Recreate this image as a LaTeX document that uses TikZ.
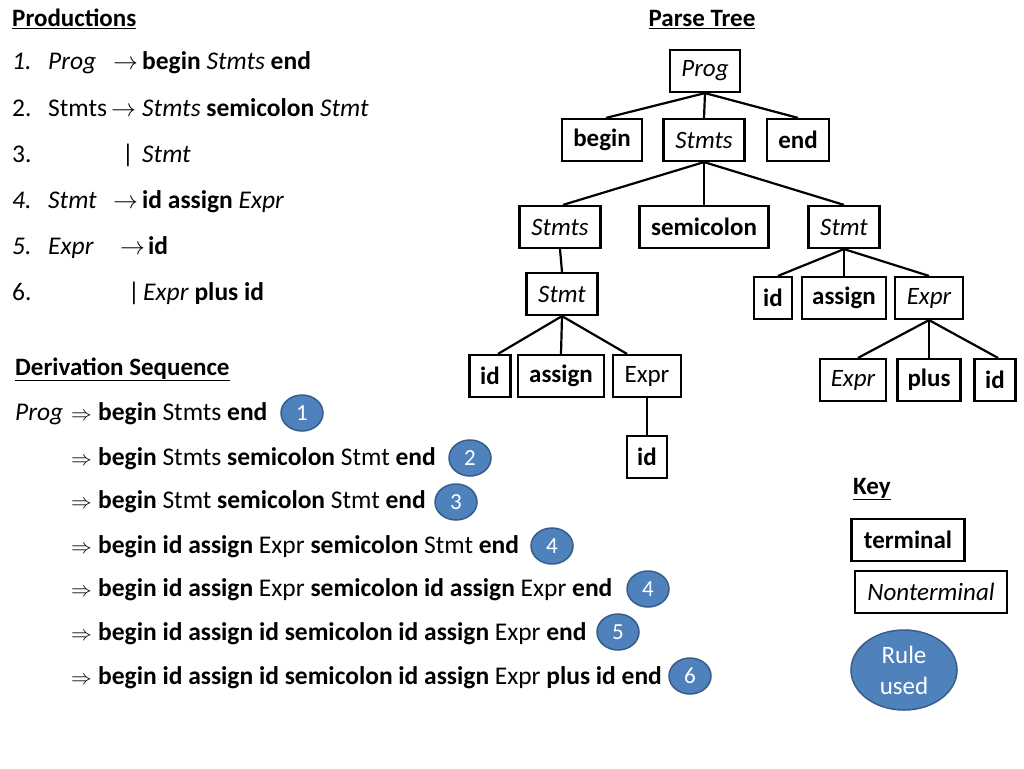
\documentclass[tikz,border=0pt]{standalone}
\usepackage{fontspec}
\setmainfont{Carlito}
\usetikzlibrary{shapes.geometric}
\definecolor{rulefill}{RGB}{79,129,189}
\definecolor{ruledraw}{RGB}{56,93,138}
\newcommand{\ra}{{\fontsize{24}{26}\selectfont$\rightarrow$}}
\newcommand{\Ra}{{\fontsize{22}{26}\selectfont$\Rightarrow$}}
\tikzset{
 txt/.style={anchor=base west, inner sep=0pt, font=\fontsize{25.5}{29}\selectfont},
 head/.style={anchor=base west, inner sep=0pt, font=\fontsize{25}{29}\selectfont\bfseries},
 term/.style={draw, line width=2.2pt, minimum height=42pt, inner sep=0pt, font=\fontsize{25}{29}\selectfont\bfseries},
 nterm/.style={term, font=\fontsize{25}{29}\selectfont\itshape},
 plainbox/.style={term, font=\fontsize{25}{29}\selectfont},
 conn/.style={line width=2.2pt},
 rulec/.style={ellipse, fill=rulefill, draw=ruledraw, line width=1.5pt, minimum width=42pt, minimum height=36pt, inner sep=0pt, text=white, font=\fontsize{23}{26}\selectfont},
}
\begin{document}
\begin{tikzpicture}[x=1pt,y=-1pt]
\useasboundingbox[fill=white] (0,0) rectangle (1024,768);

% Productions
\node[head] (ph) at (12,27) {\underline{Productions}};
\node[txt] (p1n) at (12,70) {\textit{1.}};
\node[txt] (p1a) at (48,70) {\textit{Prog}};
\node[txt] (p1b) at (113,70) {\ra};
\node[txt] (p1c) at (142,70) {\textbf{begin} \textit{Stmts} \textbf{end}};
\node[txt] (p2n) at (12,116) {2.};
\node[txt] (p2a) at (48,116) {Stmts};
\node[txt] (p2b) at (111,116) {\ra};
\node[txt] (p2c) at (142,116) {\textit{Stmts} \textbf{semicolon} \textit{Stmt}};
\node[txt] (p3n) at (12,162) {3.};
\node[txt] (p3b) at (122,162) {|};
\node[txt] (p3c) at (142,162) {\textit{Stmt}};
\node[txt] (p4n) at (12,208) {\textit{4.}};
\node[txt] (p4a) at (48,208) {\textit{Stmt}};
\node[txt] (p4b) at (113,208) {\ra};
\node[txt] (p4c) at (142,208) {\textbf{id assign} \textit{Expr}};
\node[txt] (p5n) at (12,254) {\textit{5.}};
\node[txt] (p5a) at (48,254) {\textit{Expr}};
\node[txt] (p5b) at (120,254) {\ra};
\node[txt] (p5c) at (148,254) {\textbf{id}};
\node[txt] (p6n) at (12,300) {6.};
\node[txt] (p6b) at (128,300) {|};
\node[txt] (p6c) at (143,300) {\textit{Expr} \textbf{plus id}};

% Derivation sequence
\node[head] (dh) at (15,375) {\underline{Derivation Sequence}};
\node[txt] (d1a) at (15,420) {\textit{Prog}};
\node[txt] (d1b) at (71,420) {\Ra};
\node[txt] (d1c) at (98,420) {\textbf{begin} Stmts \textbf{end}};
\node[txt] (d2b) at (71,465) {\Ra};
\node[txt] (d2c) at (98,465) {\textbf{begin} Stmts \textbf{semicolon} Stmt \textbf{end}};
\node[txt] (d3b) at (71,508) {\Ra};
\node[txt] (d3c) at (98,508) {\textbf{begin} Stmt \textbf{semicolon} Stmt \textbf{end}};
\node[txt] (d4b) at (71,553) {\Ra};
\node[txt] (d4c) at (98,553) {\textbf{begin id assign} Expr \textbf{semicolon} Stmt \textbf{end}};
\node[txt] (d5b) at (71,596) {\Ra};
\node[txt] (d5c) at (98,596) {\textbf{begin id assign} Expr \textbf{semicolon id assign} Expr \textbf{end}};
\node[txt] (d6b) at (71,640) {\Ra};
\node[txt] (d6c) at (98,640) {\textbf{begin id assign id semicolon id assign} Expr \textbf{end}};
\node[txt] (d7b) at (71,684) {\Ra};
\node[txt] (d7c) at (98,684) {\textbf{begin id assign id semicolon id assign} Expr \textbf{plus id end}};

\node[rulec] (c1) at (302,413) {1};
\node[rulec] (c2) at (470,458) {2};
\node[rulec] (c3) at (456,502) {3};
\node[rulec] (c4) at (552,546) {4};
\node[rulec] (c5) at (648,589) {4};
\node[rulec] (c6) at (618,632) {5};
\node[rulec] (c7) at (690,676) {6};

% Parse tree
\node[head, anchor=base] (th) at (702,27) {\underline{Parse Tree}};
\node[nterm, minimum width=70pt] (prog) at (705,71) {Prog};
\node[term, minimum width=80pt] (begin) at (602,140) {begin};
\node[nterm, minimum width=81pt] (stmts) at (704,140) {Stmts};
\node[term, minimum width=62pt] (end) at (798,140) {end};
\node[nterm, minimum width=81pt] (stmts2) at (560,227) {Stmts};
\node[term, minimum width=129pt] (semi) at (704,227) {semicolon};
\node[nterm, minimum width=71pt] (stmtR) at (844,227) {Stmt};
\node[nterm, minimum width=71pt] (stmtL) at (562,294) {Stmt};
\node[term, minimum width=38pt] (idR) at (773,298) {id};
\node[term, minimum width=84pt] (asgR) at (844,298) {assign};
\node[nterm, minimum width=68pt] (exprR) at (929,298) {Expr};
\node[term, minimum width=41pt] (idL) at (490,376) {id};
\node[term, minimum width=86pt] (asgL) at (561,376) {assign};
\node[plainbox, minimum width=68pt] (exprL) at (647,376) {Expr};
\node[term, minimum width=40pt] (idL2) at (647,457) {id};
\node[nterm, minimum width=66pt] (exprR2) at (853,380) {Expr};
\node[term, minimum width=63pt] (plus) at (929,380) {plus};
\node[term, minimum width=41pt] (idR2) at (995,380) {id};

\draw[conn] (prog.south) -- ([xshift=4pt]begin.north);
\draw[conn] (prog.south) -- (stmts.north);
\draw[conn] (prog.south) -- (end.north);
\draw[conn] (stmts.south) -- ([xshift=3pt]stmts2.north);
\draw[conn] (stmts.south) -- (semi.north);
\draw[conn] (stmts.south) -- (stmtR.north);
\draw[conn] (stmts2.south) -- (stmtL.north);
\draw[conn] (stmtL.south) -- ([xshift=8pt]idL.north);
\draw[conn] (stmtL.south) -- (asgL.north);
\draw[conn] (stmtL.south) -- ([xshift=-20pt]exprL.north);
\draw[conn] (exprL.south) -- (idL2.north);
\draw[conn] (stmtR.south) -- ([xshift=5pt]idR.north);
\draw[conn] (stmtR.south) -- (asgR.north);
\draw[conn] (stmtR.south) -- (exprR.north);
\draw[conn] (exprR.south) -- ([xshift=5pt]exprR2.north);
\draw[conn] (exprR.south) -- (plus.north);
\draw[conn] (exprR.south) -- ([xshift=3pt]idR2.north);

% Key
\node[head] (kh) at (853,494) {\underline{Key}};
\node[term, minimum width=113pt] (kt) at (908,540) {terminal};
\node[nterm, minimum width=152pt] (kn) at (931,592) {Nonterminal};
\node[rulec, minimum width=106pt, minimum height=80pt, align=center, font=\fontsize{25}{31}\selectfont] (kr) at (904,670) {Rule\\used};
\end{tikzpicture}
\end{document}
